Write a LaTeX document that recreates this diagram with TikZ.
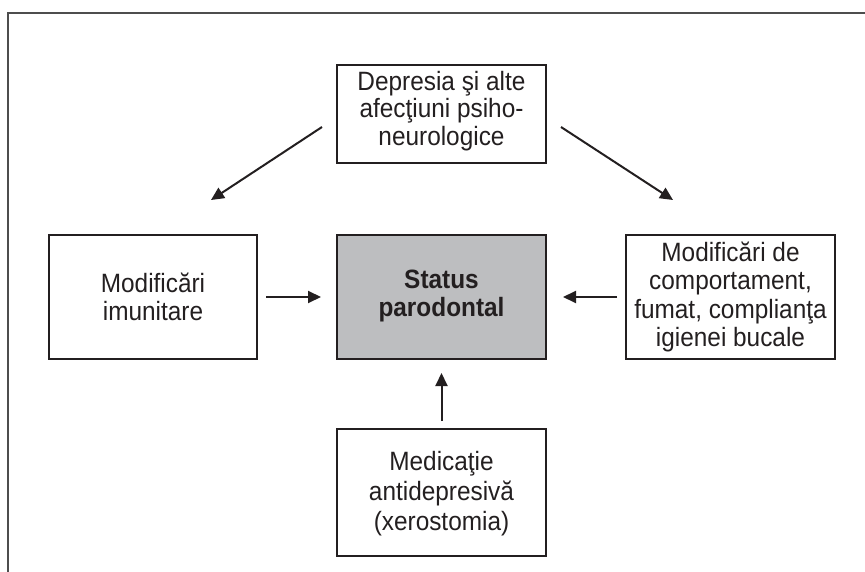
\documentclass[tikz,border=0pt]{standalone}
\usepackage{fontspec}
\setmainfont{Liberation Sans}[FakeStretch=0.92]
\usetikzlibrary{arrows.meta}
\definecolor{ink}{HTML}{231F20}
\definecolor{framegray}{HTML}{4D4D4D}
\definecolor{centerfill}{HTML}{BDBEC0}
\begin{document}
\begin{tikzpicture}[x=1pt,y=-1pt,
  box/.style={draw=ink, line width=2pt, inner sep=0pt},
  txt/.style={align=center, inner sep=0pt, text=ink,
    font=\fontsize{26.5}{28.5}\selectfont},
  arr/.style={draw=ink, line width=2pt, -{Triangle[length=13pt,width=12pt]}}]
\useasboundingbox (0,0) rectangle (865,572);
\draw[framegray, line width=2pt] (8,572) -- (8,13) -- (865,13);
\node[box, minimum width=209pt, minimum height=98pt] (dep) at (441.5,114) {};
\node[txt, font=\fontsize{26.5}{27.5}\selectfont] (deptext) at ([yshift=3pt]dep.center)
  {Depresia şi alte\\afecţiuni psiho-\\neurologice};
\node[box, minimum width=208pt, minimum height=124pt] (imu) at (153,297) {};
\node[txt] (imutext) at (imu.center) {Modificări\\imunitare};
\node[box, fill=centerfill, minimum width=209pt, minimum height=124pt] (stat) at (441.5,297) {};
\node[txt, font=\fontsize{26.5}{28.5}\selectfont\bfseries] (stattext) at ([yshift=1pt]stat.center)
  {Status\\parodontal};
\node[box, minimum width=209pt, minimum height=124pt] (comp) at (730.5,297) {};
\node[txt] (comptext) at (comp.center)
  {Modificări de\\comportament,\\fumat, complianţa\\igienei bucale};
\node[box, minimum width=209pt, minimum height=127pt] (med) at (441.5,492.5) {};
\node[txt, font=\fontsize{26.5}{30}\selectfont] (medtext) at ([yshift=-1pt]med.center)
  {Medicaţie\\antidepresivă\\(xerostomia)};
\coordinate (dlA) at (322,127);
\coordinate (dlB) at (211,200);
\coordinate (drA) at (561,127);
\coordinate (drB) at (673,200);
\draw[arr] (dlA) -- (dlB);
\draw[arr] (drA) -- (drB);
\draw[arr, shorten <=8pt, shorten >=15pt] (imu.east) -- (stat.west);
\draw[arr, shorten <=8pt, shorten >=16pt] (comp.west) -- (stat.east);
\draw[arr, shorten <=7pt, shorten >=13pt] (med.north) -- (stat.south);
\end{tikzpicture}
\end{document}
